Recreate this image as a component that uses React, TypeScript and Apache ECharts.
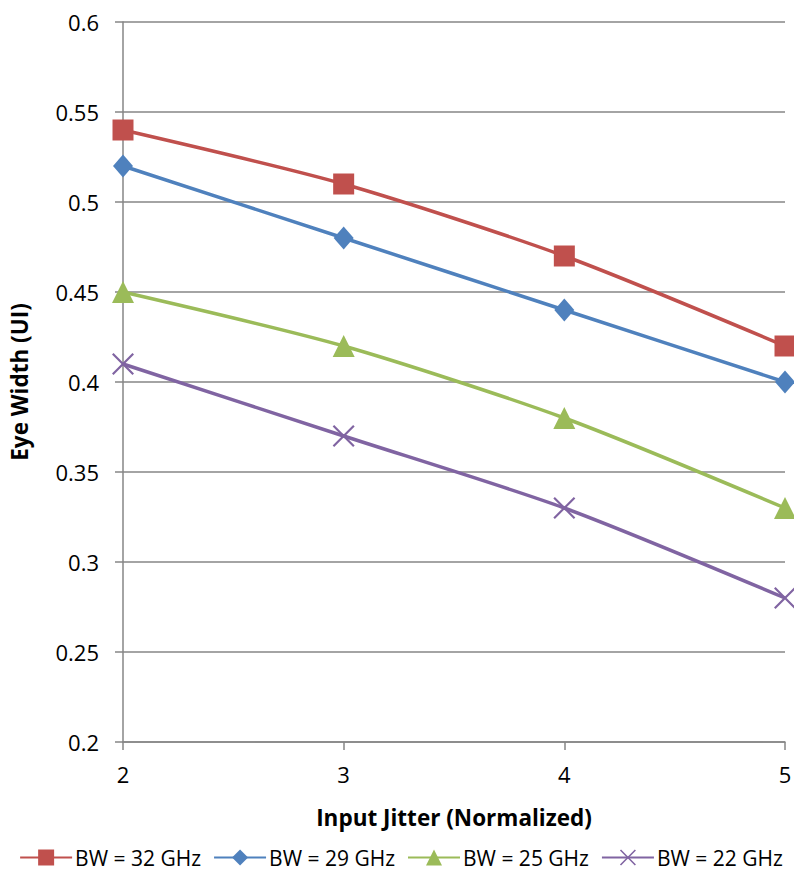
import React, { useEffect, useRef } from "react";
import * as echarts from "echarts";

const xValues = [2, 3, 4, 5];
const seriesNames = ["BW = 32 GHz", "BW = 29 GHz", "BW = 25 GHz", "BW = 22 GHz"];
const bw32 = [0.54, 0.51, 0.47, 0.42];
const bw29 = [0.52, 0.48, 0.44, 0.4];
const bw25 = [0.45, 0.42, 0.38, 0.33];
const bw22 = [0.41, 0.37, 0.33, 0.28];
const colors = ["#C0504D", "#4F81BD", "#9BBB59", "#8064A2"];

const xSymbol =
  "path://M0,7L7,0L50,43L93,0L100,7L57,50L100,93L93,100L50,57L7,100L0,93L43,50Z";

const FONT = "'Open Sans', Lato, sans-serif";

export default function App() {
  const ref = useRef<HTMLDivElement>(null);
  useEffect(() => {
    if (!ref.current) return;
    const chart = echarts.init(ref.current, undefined, { renderer: "svg" });
    const allData = [bw32, bw29, bw25, bw22];
    const symbols = ["rect", "diamond", "triangle", xSymbol];
    const sizes = [21, [20, 23], 22, 22];
    chart.setOption({
      animation: false,
      textStyle: { fontFamily: FONT },
      grid: { left: 120, right: 17, top: 22, bottom: 132, containLabel: false },
      xAxis: {
        type: "value",
        min: 2,
        max: 5,
        interval: 1,
        name: "Input Jitter (Normalized)",
        nameLocation: "middle",
        nameGap: 64,
        nameTextStyle: { fontFamily: FONT, fontSize: 22.5, fontWeight: "bold", color: "#000" },
        axisLine: { show: true, lineStyle: { color: "#868686", width: 1.5 } },
        axisTick: { show: true, length: 8, lineStyle: { color: "#868686", width: 1.5 } },
        axisLabel: { fontFamily: FONT, fontSize: 22, color: "#000", margin: 21 },
        splitLine: { show: false },
      },
      yAxis: {
        type: "value",
        min: 0.2,
        max: 0.6,
        interval: 0.05,
        name: "Eye Width (UI)",
        nameLocation: "middle",
        nameGap: 92,
        nameTextStyle: { fontFamily: FONT, fontSize: 22.5, fontWeight: "bold", color: "#000" },
        axisLine: { show: true, lineStyle: { color: "#868686", width: 1.5 } },
        axisTick: { show: true, length: 8, lineStyle: { color: "#868686", width: 1.5 } },
        axisLabel: {
          fontFamily: FONT,
          fontSize: 22,
          color: "#000",
          margin: 24,
          formatter: (v: number) => String(+v.toFixed(2)),
        },
        splitLine: { show: true, lineStyle: { color: "#868686", width: 1.5 } },
      },
      legend: {
        bottom: 1,
        left: "center",
        itemWidth: 52,
        itemHeight: 20,
        itemGap: 12,
        textStyle: { fontFamily: FONT, fontSize: 21, color: "#000", padding: [0, 0, 0, -2] },
        data: seriesNames,
      },
      series: seriesNames.map((name, i) => ({
        name,
        type: "line",
        smooth: 0.25,
        data: xValues.map((x, j) => [x, allData[i][j]]),
        symbol: symbols[i],
        symbolSize: sizes[i],
        showAllSymbol: true,
        lineStyle: { color: colors[i], width: 3.5 },
        itemStyle: { color: colors[i], borderWidth: 0 },
        color: colors[i],
        clip: false,
      })),
    });
    return () => chart.dispose();
  }, []);
  return <div ref={ref} style={{ width: 802, height: 874, margin: -8 }} />;
}
